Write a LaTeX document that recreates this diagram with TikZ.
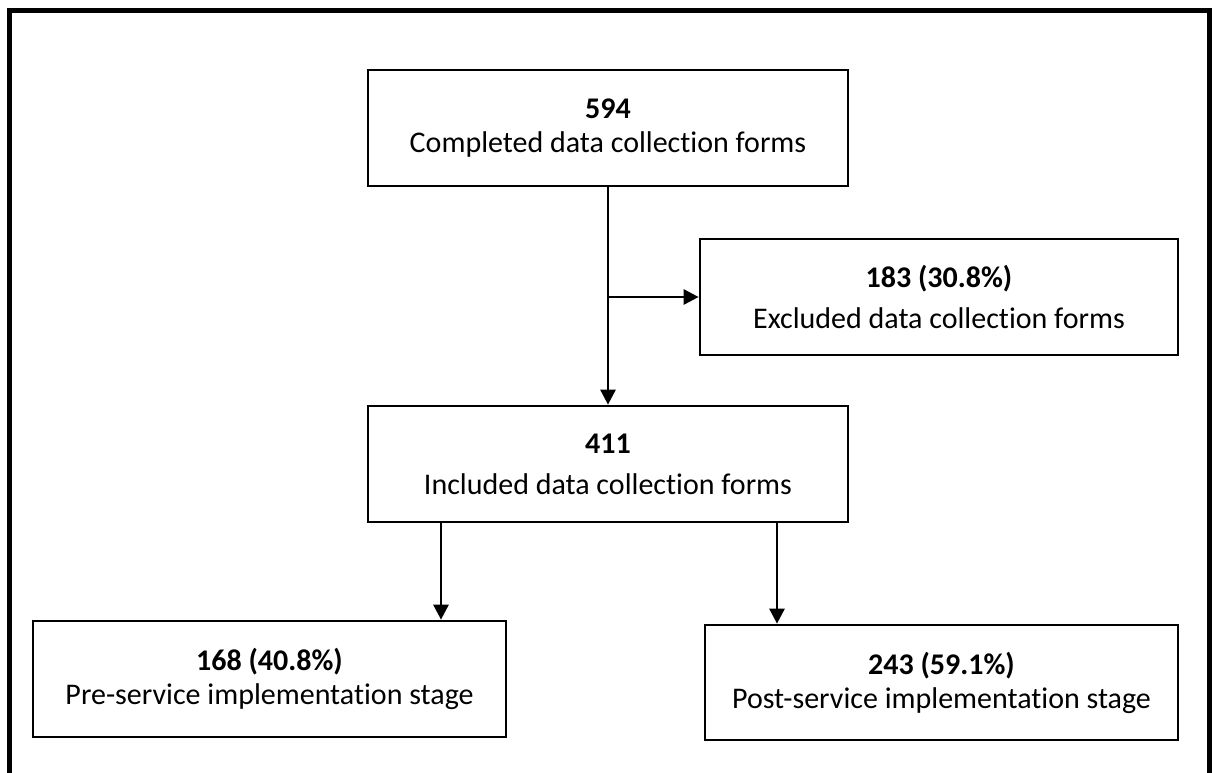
\documentclass[tikz,border=0pt]{standalone}
\usepackage{fontspec}
\setmainfont[Ligatures=NoCommon]{Carlito}
\usetikzlibrary{arrows.meta}
\begin{document}
\begin{tikzpicture}[x=1pt,y=-1pt,
  box/.style={draw,line width=2.7pt,inner sep=0pt,align=center,
    font=\fontsize{30}{34}\selectfont},
  arr/.style={line width=2.7pt,-{Triangle[length=15pt,width=15pt]}},
  frame/.style={line width=5pt,line join=miter}]
\useasboundingbox (0,0) rectangle (1212,772);
\draw[frame] (9.5,775) -- (9.5,10) -- (1209.5,10) -- (1209.5,775);
\node[box,minimum width=480pt,minimum height=116pt] (a) at (608,128)
  {\textbf{594}\\ Completed data collection forms};
\node[box,minimum width=478pt,minimum height=116pt] (b) at (939,297)
  {\textbf{183 (30.8\%)}\\[7pt] Excluded data collection forms};
\node[box,minimum width=480pt,minimum height=116pt] (c) at (608,464)
  {\textbf{411}\\[7pt] Included data collection forms};
\node[box,minimum width=473pt,minimum height=116pt] (d) at (269.5,679)
  {\textbf{168 (40.8\%)}\\ Pre-service implementation stage};
\node[box,minimum width=473pt,minimum height=115pt] (e) at (941.5,682.5)
  {\textbf{243 (59.1\%)}\\ Post-service implementation stage};
\coordinate (br) at (608,297);
\coordinate (lx) at (441,0);
\coordinate (rx) at (777,0);
\draw[arr] (a) -- (c);
\draw[arr] (br) -- (b.west);
\draw[arr] (c.south -| lx) -- (d.north -| lx);
\draw[arr] (c.south -| rx) -- (e.north -| rx);
\end{tikzpicture}
\end{document}
